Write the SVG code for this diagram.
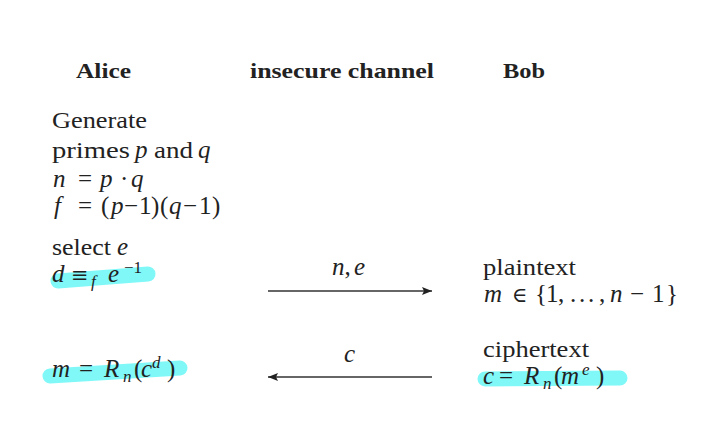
<svg xmlns="http://www.w3.org/2000/svg" width="724" height="421" viewBox="0 0 724 421">
<defs>
<style>
.h{font-family:"Liberation Serif",serif;font-weight:bold;font-size:22px;fill:#222}
.t{font-family:"Liberation Serif",serif;font-size:24px;fill:#222}
.m{font-family:"Liberation Serif",serif;font-style:italic;font-size:25px;fill:#222}
.r{font-style:normal}
.y{font-family:"DejaVu Serif",serif;font-style:normal;font-size:21px}
.s{font-size:17px}
.hl{stroke:#80f8f8;stroke-width:15;stroke-linecap:round;fill:none}
.ar{stroke:#333;stroke-width:1.3;fill:none}
</style>
<marker id="ah" viewBox="0 0 10 8" refX="10" refY="4" markerWidth="10" markerHeight="8" markerUnits="userSpaceOnUse" orient="auto-start-reverse">
<path d="M0,0 L10,4 L0,8 L2,4 Z" fill="#222"/>
</marker>
</defs>
<rect width="724" height="421" fill="#fff"/>
<g id="highlights">
<path class="hl" d="M58,281 L148,274"/>
<path class="hl" d="M50,376 L180,368"/>
<path class="hl" d="M485,379 L620,378"/>
</g>
<g id="headers">
<text class="h" x="76" y="78" textLength="55" lengthAdjust="spacingAndGlyphs">Alice</text>
<text class="h" x="250" y="78" textLength="184" lengthAdjust="spacingAndGlyphs">insecure channel</text>
<text class="h" x="503" y="78" textLength="42" lengthAdjust="spacingAndGlyphs">Bob</text>
</g>
<g id="alice">
<text class="t" x="52" y="128" textLength="95" lengthAdjust="spacingAndGlyphs">Generate</text>
<text class="t" x="52" y="158" textLength="78" lengthAdjust="spacingAndGlyphs">primes</text>
<text class="m" x="135" y="158">p</text>
<text class="t" x="154" y="158" textLength="39" lengthAdjust="spacingAndGlyphs">and</text>
<text class="m" x="198" y="158">q</text>
<text class="m" x="53" y="187">n<tspan class="r" x="78">=</tspan><tspan x="100">p</tspan><tspan class="r" x="120">·</tspan><tspan x="131">q</tspan></text>
<text class="m" x="54" y="214">f<tspan class="r" x="78">=</tspan><tspan class="r" x="101">(</tspan><tspan x="111">p</tspan><tspan class="r" x="124">−</tspan><tspan class="r" x="139">1</tspan><tspan class="r" x="151">)</tspan><tspan class="r" x="160">(</tspan><tspan x="169">q</tspan><tspan class="r" x="183">−</tspan><tspan class="r" x="199">1</tspan><tspan class="r" x="212">)</tspan></text>
<text class="t" x="52" y="255" textLength="59" lengthAdjust="spacingAndGlyphs">select</text>
<text class="m" x="117" y="255">e</text>
<text class="m" x="52" y="282">d<tspan class="y" x="71">≡</tspan><tspan class="s" x="91" y="287">f</tspan><tspan x="108" y="282">e</tspan><tspan class="r s" x="124" y="273">−1</tspan></text>
<text class="m" x="52" y="377">m<tspan class="r" x="79">=</tspan><tspan x="104">R</tspan><tspan class="s" x="123" y="382">n</tspan><tspan class="r" x="134" y="377">(</tspan><tspan x="141">c</tspan><tspan class="s" x="152" y="368">d</tspan><tspan class="r" x="167" y="377">)</tspan></text>
</g>
<g id="bob">
<text class="t" x="483" y="275" textLength="93" lengthAdjust="spacingAndGlyphs">plaintext</text>
<text class="m" x="484" y="302">m<tspan class="y" x="512">∈</tspan><tspan class="r" x="535">{</tspan><tspan class="r" x="546">1</tspan><tspan class="r" x="558">,</tspan><tspan class="r" x="570">.</tspan><tspan class="r" x="579">.</tspan><tspan class="r" x="588">.</tspan><tspan class="r" x="599">,</tspan><tspan x="610">n</tspan><tspan class="r" x="630">−</tspan><tspan class="r" x="652">1</tspan><tspan class="r" x="666">}</tspan></text>
<text class="t" x="483" y="357" textLength="106" lengthAdjust="spacingAndGlyphs">ciphertext</text>
<text class="m" x="483" y="384">c<tspan class="r" x="499">=</tspan><tspan x="524">R</tspan><tspan class="s" x="543" y="389">n</tspan><tspan class="r" x="554" y="384">(</tspan><tspan x="561">m</tspan><tspan class="s" x="582" y="375">e</tspan><tspan class="r" x="596" y="384">)</tspan></text>
</g>
<g id="connectors">
<line class="ar" x1="268" y1="291" x2="432" y2="291" marker-end="url(#ah)"/>
<text class="m" x="332" y="275">n<tspan class="r">,</tspan><tspan x="354">e</tspan></text>
<line class="ar" x1="432" y1="377" x2="268" y2="377" marker-end="url(#ah)"/>
<text class="m" x="344" y="362">c</text>
</g>
</svg>
